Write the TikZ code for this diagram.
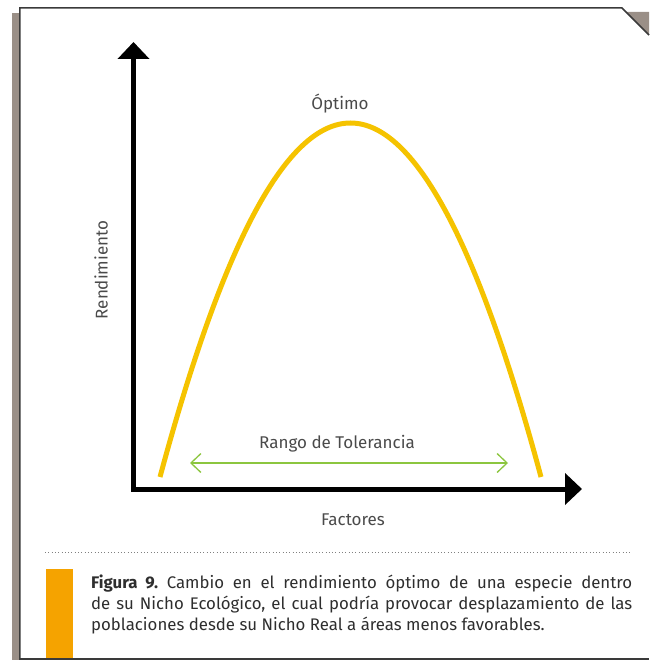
\documentclass[tikz,border=0pt]{standalone}
\usepackage{fontspec}
\setmainfont{Fira Sans}
\usetikzlibrary{arrows.meta}
\frenchspacing
\definecolor{frameline}{HTML}{3A3A3A}
\definecolor{shadowgray}{HTML}{9A8F87}
\definecolor{curveyellow}{HTML}{F5C300}
\definecolor{rangegreen}{HTML}{8CC63F}
\definecolor{capbar}{HTML}{F5A300}
\definecolor{txtgray}{HTML}{4A4A4A}
\definecolor{captxt}{HTML}{2E2E2E}
\tikzset{
  axisline/.style={line width=5pt, black, line join=miter,
    {Triangle[length=17pt, width=31pt]}-{Triangle[length=17pt, width=31pt]}},
  curveline/.style={line width=5pt, curveyellow},
  rangearrow/.style={line width=1.3pt, rangegreen,
    {Straight Barb[length=10pt, width=19pt]}-{Straight Barb[length=10pt, width=19pt]}},
  lbl/.style={inner sep=0pt, text=txtgray, font=\fontsize{17}{20}\selectfont},
  capline/.style={inner sep=0pt, anchor=base west, text=captxt, font=\fontsize{16.8}{21}\selectfont},
}
\begin{document}
\begin{tikzpicture}[x=1pt,y=-1pt]
\useasboundingbox (0,0) rectangle (649,660);
% shadow and frame
\fill[shadowgray] (12,13) rectangle (19,660);
\fill[shadowgray] (626,12) -- (649,12) -- (649,35) -- cycle;
\draw[frameline, line width=1.5pt] (19.75,660) -- (19.75,8) -- (622,8) -- (649,35);
\draw[frameline, line width=1.5pt] (19,659) -- (649,659);
% axes
\coordinate (O) at (133.5,489);
\coordinate (ytip) at (133.5,42);
\coordinate (xtip) at (582,489);
\draw[axisline] (ytip) -- (O) -- (xtip);
% curve
\coordinate (c0) at (160,477);
\coordinate (c1) at (287,5);
\coordinate (c2) at (414,5);
\coordinate (c3) at (541,477);
\draw[curveline] (c0) .. controls (c1) and (c2) .. (c3);
% range
\coordinate (rl) at (190,463);
\coordinate (rr) at (508,463);
\draw[rangearrow] (rl) -- (rr);
% labels
\node[lbl] (optimo) at (340,104) {Óptimo};
\node[lbl] (rango) at (337,444) {Rango de Tolerancia};
\node[lbl] (factores) at (353,520) {Factores};
\node[lbl, rotate=90] (rend) at (101,270) {Rendimiento};
% caption
\coordinate (d0) at (45,552);
\coordinate (d1) at (632,552);
\draw[gray, line width=1pt, dash pattern=on 1pt off 2.3pt] (d0) -- (d1);
\fill[capbar] (46,569) rectangle (73,658);
\node[capline] (cap1) at (91,588) {\makebox[541pt][s]{\textbf{Figura 9.} Cambio en el rendimiento óptimo de una especie dentro}};
\node[capline] (cap2) at (91,609) {\makebox[541pt][s]{de su Nicho Ecológico, el cual podría provocar desplazamiento de las}};
\node[capline] (cap3) at (91,630) {poblaciones desde su Nicho Real a áreas menos favorables.};
\end{tikzpicture}
\end{document}
